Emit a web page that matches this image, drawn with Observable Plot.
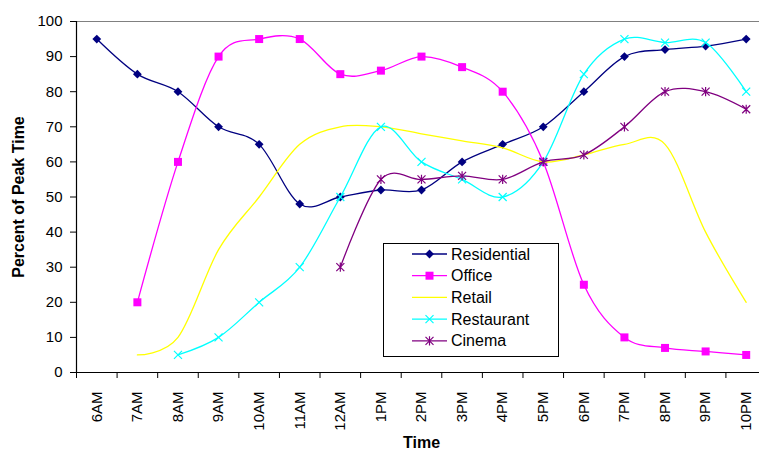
<!DOCTYPE html>
<html>
<head>
<meta charset="utf-8">
<script src="https://cdn.jsdelivr.net/npm/d3@7"></script>
<script src="https://cdn.jsdelivr.net/npm/@observablehq/plot@0.6"></script>
<style>
  html, body { margin: 0; padding: 0; background: #fff; overflow: hidden; }
  #chart { position: relative; width: 759px; height: 451px; font-family: "Liberation Sans", Arial, sans-serif; }
  #chart svg { display: block; }
  #legend { position: absolute; left: 383px; top: 243px; }
</style>
</head>
<body>
<div id="chart"></div>
<script>
// Hour-of-day categories along the x axis
const hours = ["6AM", "7AM", "8AM", "9AM", "10AM", "11AM", "12AM", "1PM", "2PM",
               "3PM", "4PM", "5PM", "6PM", "7PM", "8PM", "9PM", "10PM"];

// Percent of peak demand per land use (null = no value for that hour)
const residential = [95, 85, 80, 70, 65, 48, 50, 52, 52, 60, 65, 70, 80, 90, 92, 93, 95];
const office      = [null, 20, 60, 90, 95, 95, 85, 86, 90, 87, 80, 60, 25, 10, 7, 6, 5];
const retail      = [null, 5, 10, 35, 50, 65, 70, 70, 68, 66, 64, 60, 62, 65, 65, 40, 20];
const restaurant  = [null, null, 5, 10, 20, 30, 50, 70, 60, 55, 50, 60, 85, 95, 94, 94, 80];
const cinema      = [null, null, null, null, null, null, 30, 55, 55, 56, 55, 60, 62, 70, 80, 80, 75];

const seriesNames = ["Residential", "Office", "Retail", "Restaurant", "Cinema"];
const seriesValues = [residential, office, retail, restaurant, cinema];
const seriesColors = ["#000080", "#FF00FF", "#FFFF00", "#00FFFF", "#800080"];

const yTicks = [0, 10, 20, 30, 40, 50, 60, 70, 80, 90, 100];

// Marker shapes (custom d3 symbol types; size is an area, r is the half-extent)
const rad = (size) => Math.sqrt(size / Math.PI);
const diamond = { draw(c, size) { const r = rad(size); c.moveTo(0, -r); c.lineTo(r, 0); c.lineTo(0, r); c.lineTo(-r, 0); c.closePath(); } };
const square = { draw(c, size) { const r = rad(size); c.rect(-r, -r, 2 * r, 2 * r); } };
const cross = { draw(c, size) { const r = rad(size); c.moveTo(-r, -r); c.lineTo(r, r); c.moveTo(r, -r); c.lineTo(-r, r); } };
const star = { draw(c, size) { const r = rad(size); c.moveTo(-r, -r); c.lineTo(r, r); c.moveTo(r, -r); c.lineTo(-r, r); c.moveTo(0, -r * 1.15); c.lineTo(0, r * 1.15); } };

// marker style per series: [symbol, filled?, radius]
const markers = [[diamond, true, 4.4], [square, true, 4], null, [cross, false, 4], [star, false, 4]];

const rowsFor = (vals, name) => vals
  .map((v, i) => ({ series: name, i, hour: hours[i], value: v }))
  .filter(d => d.value != null);

const seriesMarks = seriesNames.flatMap((name, s) => {
  const rows = rowsFor(seriesValues[s], name);
  const marks = [
    Plot.line(rows, {
      x: d => d.i + 0.5, y: "value", stroke: seriesColors[s],
      strokeWidth: 1.3, curve: "cardinal", tension: 0
    })
  ];
  const m = markers[s];
  if (m) {
    marks.push(Plot.dot(rows, {
      x: d => d.i + 0.5, y: "value", r: m[2], symbol: m[0],
      fill: m[1] ? seriesColors[s] : "none",
      stroke: m[1] ? "none" : seriesColors[s],
      strokeWidth: 1.2
    }));
  }
  return marks;
});

const chart = Plot.plot({
  width: 759,
  height: 451,
  marginLeft: 76,
  marginTop: 21,
  marginBottom: 79,
  marginRight: -7,
  style: { fontFamily: "'Liberation Sans', Arial, sans-serif", fontSize: "15px", color: "black", background: "white" },
  x: { domain: [0, 17], range: [76, 766] },
  y: { domain: [0, 100], range: [372, 21] },
  marks: [
    Plot.ruleY([100], { stroke: "#808080", strokeWidth: 1 }),
    Plot.axisY({ ticks: yTicks, tickSize: 6, tickPadding: 8, label: null, fontSize: 15 }),
    Plot.axisX({ ticks: d3.range(17), tickSize: 6, tickFormat: () => "", label: null }),
    Plot.axisX({
      ticks: d3.range(17).map(i => i + 0.5), tickSize: 0, tickPadding: 19, tickRotate: -90,
      tickFormat: t => hours[Math.floor(t)], label: null, fontSize: 15
    }),
    Plot.ruleY([0], { stroke: "black", strokeWidth: 1.2 }),
    Plot.ruleX([0], { stroke: "black", strokeWidth: 1.2 }),
    Plot.text(["Percent of Peak Time"], {
      frameAnchor: "left", dx: -58, rotate: -90, textAnchor: "middle", lineAnchor: "middle",
      fontWeight: "bold", fontSize: 16, text: d => d
    }),
    Plot.text(["Time"], { frameAnchor: "bottom", dy: 75, fontWeight: "bold", fontSize: 16, text: d => d }),
    ...seriesMarks
  ]
});

const container = document.getElementById("chart");
container.appendChild(chart);

// Legend box drawn inside the plot area
const lw = 176, lh = 114, rowGap = 21.7;
const legend = d3.select(container).append("svg")
  .attr("id", "legend").attr("width", lw).attr("height", lh);
legend.append("rect").attr("x", 0.5).attr("y", 0.5).attr("width", lw - 1).attr("height", lh - 1)
  .attr("fill", "white").attr("stroke", "black").attr("stroke-width", 1);
seriesNames.forEach((name, s) => {
  const y = 11 + s * rowGap;
  const g = legend.append("g").attr("transform", `translate(0,${y})`);
  g.append("line").attr("x1", 29).attr("x2", 64).attr("y1", 0).attr("y2", 0)
    .attr("stroke", seriesColors[s]).attr("stroke-width", 1.3);
  const m = markers[s];
  if (m) {
    g.append("path")
      .attr("transform", "translate(46.5,0)")
      .attr("d", d3.symbol().type(m[0]).size(Math.PI * m[2] * m[2])())
      .attr("fill", m[1] ? seriesColors[s] : "none")
      .attr("stroke", m[1] ? "none" : seriesColors[s])
      .attr("stroke-width", 1.2);
  }
  g.append("text").attr("x", 68).attr("y", 0).attr("dy", "0.35em")
    .attr("font-family", "'Liberation Sans', Arial, sans-serif").attr("font-size", 16)
    .attr("fill", "black").text(name);
});
</script>
</body>
</html>
